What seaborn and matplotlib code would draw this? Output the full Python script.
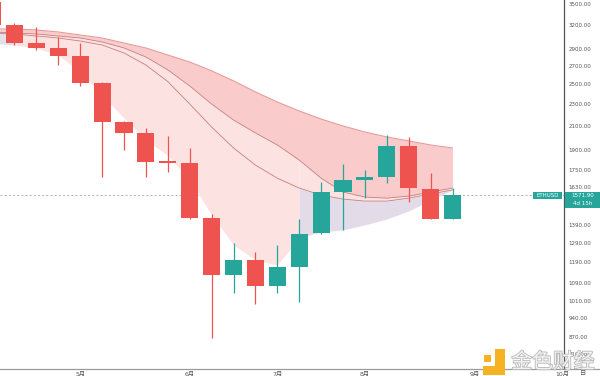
import numpy as np
import pandas as pd
import matplotlib
matplotlib.use("Agg")
import matplotlib.pyplot as plt
import matplotlib.patheffects as pe
from matplotlib.patches import Rectangle
from matplotlib.ticker import NullLocator
from matplotlib.transforms import IdentityTransform
import seaborn as sns

# weekly ETHUSD candles, week index -1 = 2022-04-04 ... 20 = 2022-08-29
week_idx = np.arange(-1, 21)
opens  = [3520, 3200, 2972, 2904, 2812, 2512, 2135, 2036, 1810, 1797, 1432,
          1127, 1200, 1074, 1165, 1341, 1596, 1676, 1699, 1931, 1614, 1424]
highs  = [3580, 3227, 3177, 3040, 2965, 2520, 2145, 2079, 2013, 1915, 1452,
          1287, 1242, 1278, 1422, 1664, 1789, 1747, 2022, 2003, 1723, 1619]
lows   = [3160, 2943, 2883, 2708, 2481, 1699, 1899, 1699, 1733, 1422, 867,
          1044, 999, 1044, 1006, 1338, 1360, 1552, 1657, 1531, 1421, 1421]
closes = [3200, 2968, 2911, 2815, 2515, 2138, 2036, 1809, 1801, 1428, 1127,
          1200, 1074, 1167, 1338, 1596, 1676, 1699, 1931, 1619, 1424, 1571.9]

# ribbon lines (slow top edge, two mid lines, fast lower edge)
band_top = [3147, 3147, 3134, 3108, 3069, 3031, 2968, 2907, 2823, 2742, 2642,
            2534, 2420, 2320, 2235, 2161, 2099, 2047, 2005, 1972, 1939, 1915]
band_mid1 = [3108, 3095, 3082, 3056, 3031, 2981, 2907, 2800, 2653, 2481, 2301,
             2152, 2039, 1939, 1821, 1688, 1593, 1560, 1553, 1566, 1593, 1620]
band_mid2 = [3095, 3082, 3056, 3031, 2993, 2944, 2847, 2708, 2527, 2301, 2090,
             1915, 1783, 1688, 1620, 1573, 1547, 1534, 1534, 1553, 1580, 1607]
band_low = [2968, 2944, 2907, 2823, 2631, 2390, 2170, 1980, 1858, 1676, 1448,
            1278, 1200, 1175, 1316, 1349, 1360, 1389, 1424, 1472, 1540, 1607]

y_ticks = [3500, 3200, 2900, 2700, 2500, 2300, 2100, 1900, 1750, 1630, 1390,
           1290, 1190, 1090, 1010, 940, 870, 810]
month_pos = [3, 8, 12, 16, 21, 25]
month_labels = ["5月", "6月", "7月", "8月", "9月", "10月"]

UP = "#26a69a"
DOWN = "#ef5350"

sns.set_style("white")
plt.rcParams["font.family"] = ["DejaVu Sans", "Noto Sans CJK SC"]

fig = plt.figure(figsize=(6, 3.76), dpi=100)
ax = fig.add_axes([0, 7 / 376, 564 / 600, 369 / 376])
ax.set_yscale("log")

df = pd.DataFrame({"i": week_idx, "o": opens, "h": highs, "l": lows, "c": closes,
                   "top": band_top, "m1": band_mid1, "m2": band_mid2, "low": band_low})

# ribbon fills
ax.fill_between(df["i"], df["top"], df["m1"], color="#f9c6c6", alpha=0.9, lw=0, zorder=1)
ax.fill_between(df["i"], df["m1"], df["low"], where=df["i"] <= 13, color="#fde2e2",
                lw=0, zorder=1)
ax.fill_between(df["i"], df["m1"], df["m2"], where=df["i"] >= 13, color="#fde2e2",
                lw=0, zorder=1)
ax.fill_between(df["i"], df["m2"], df["low"], where=df["i"] >= 13, color="#e3dbe8",
                lw=0, zorder=1)
ax.fill_between(df["i"], df["m1"], df["low"], where=df["i"] <= 0, color="#d3deef",
                alpha=0.6, lw=0, zorder=1)

sns.lineplot(data=df, x="i", y="top", ax=ax, color="#e79a9a", lw=0.8, zorder=2)
sns.lineplot(data=df, x="i", y="m1", ax=ax, color="#c48080", lw=0.6, zorder=2)
sns.lineplot(data=df, x="i", y="m2", ax=ax, color="#c48080", lw=0.6, zorder=2)

# candles
colors = [UP if c >= o else DOWN for o, c in zip(df["o"], df["c"])]
ax.vlines(df["i"], df["l"], df["h"], colors=colors, lw=0.9, zorder=3)
body_lo = np.minimum(df["o"], df["c"])
body_h = np.abs(df["c"] - df["o"])
ax.bar(df["i"], body_h, bottom=body_lo, width=0.78, color=colors, lw=0, zorder=4)

# last price line
ax.axhline(closes[-1], color="#a8a8a8", ls=(0, (2.5, 2.5)), lw=0.6, zorder=0)

ax.set_xlim(-0.662, 25.09)
ax.set_ylim(761, 3552)
ax.set_xlabel("")
ax.set_ylabel("")
ax.yaxis.tick_right()
ax.yaxis.set_minor_locator(NullLocator())
ax.set_yticks(y_ticks)
ax.set_yticklabels([f"{v:.2f}" for v in y_ticks])
ax.set_xticks(month_pos)
ax.set_xticklabels(month_labels)
ax.tick_params(axis="y", length=0, pad=3, labelsize=4, labelcolor="#555555")
ax.tick_params(axis="x", length=0, pad=2, labelsize=4.5, labelcolor="#555555")
for s in ["top", "left"]:
    ax.spines[s].set_visible(False)
ax.spines["right"].set_color("#555555")
ax.spines["right"].set_linewidth(0.9)
ax.spines["bottom"].set_color("#9a9a9a")
ax.spines["bottom"].set_linewidth(0.9)
fig.add_artist(plt.Line2D([564, 600], [7, 7], transform=IdentityTransform(),
                          color="#9a9a9a", lw=0.9))

# price tags
yd = ax.transData.transform((0, closes[-1]))[1]
fig.add_artist(Rectangle((533, yd - 3.5), 29, 7, transform=IdentityTransform(),
                         color=UP, lw=0, zorder=5))
fig.text(547.5, yd, "ETHUSD", transform=IdentityTransform(), color="white",
         fontsize=4, ha="center", va="center", zorder=6)
fig.add_artist(Rectangle((565, yd - 12.3), 35, 15.6, transform=IdentityTransform(),
                         color=UP, lw=0, zorder=5))
fig.text(582.5, yd, "1571.90", transform=IdentityTransform(), color="white",
         fontsize=4, ha="center", va="center", zorder=6)
fig.text(582.5, yd - 8, "4d 15h", transform=IdentityTransform(), color="white",
         fontsize=4, ha="center", va="center", zorder=6)
fig.text(583, -1, "日", transform=IdentityTransform(), color="#555555",
         fontsize=4.5, ha="center", va="bottom", family=["Noto Sans CJK SC"])

# watermark
wm = "#f5b324"
fig.add_artist(Rectangle((495, 1), 10, 26, transform=IdentityTransform(), color=wm, lw=0))
fig.add_artist(Rectangle((483, 1), 22, 9, transform=IdentityTransform(), color=wm, lw=0))
fig.add_artist(Rectangle((484, 14), 7, 7, transform=IdentityTransform(), color=wm, lw=0))
fig.text(553, 14, "金色财经", transform=IdentityTransform(), fontsize=15,
         color="#f2f2f2", ha="center", va="center", family=["Noto Sans CJK SC"],
         path_effects=[pe.withStroke(linewidth=1.2, foreground="#b8b8b8")])

fig.savefig("out.png", dpi=100)
